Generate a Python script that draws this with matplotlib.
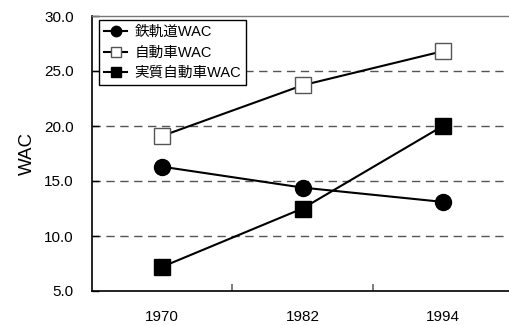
import matplotlib
matplotlib.use("Agg")
import matplotlib.pyplot as plt

plt.rcParams['font.family'] = ['Liberation Sans', 'Noto Sans CJK JP']

years = ['1970', '1982', '1994']
rail = [16.3, 14.4, 13.1]
car = [19.1, 23.7, 26.8]
real_car = [7.2, 12.5, 20.0]
yticks = [5.0, 10.0, 15.0, 20.0, 25.0, 30.0]

fig = plt.figure(figsize=(5.09, 3.25), dpi=100)
ax = fig.add_axes([92/509, 1-291/325, (513-92)/509, (291-16)/325])

x = list(range(len(years)))
ax.plot(x, rail, color='black', lw=1.5, marker='o', ms=11.5, mfc='black', mec='black', label='鉄軌道WAC', zorder=3)
ax.plot(x, car, color='black', lw=1.5, marker='s', ms=11.5, mfc='white', mec='#555555', mew=1.0, label='自動車WAC', zorder=3)
ax.plot(x, real_car, color='black', lw=1.5, marker='s', ms=11.5, mfc='black', mec='black', label='実質自動車WAC', zorder=3)

ax.set_xlim(-0.5, 2.5)
ax.set_ylim(5, 30)
ax.set_yticks(yticks)
ax.set_yticklabels([f'{v:.1f}' for v in yticks], fontsize=11)
ax.set_xticks(x)
ax.set_xticklabels(years, fontsize=11)
ax.tick_params(axis='x', length=0, pad=14)
ax.set_xticks([0.5, 1.5], minor=True)
ax.tick_params(axis='x', which='minor', direction='in', length=5, width=1.2, color='#666666')
ax.tick_params(axis='y', direction='in', length=5, width=1, pad=13)

for v in yticks[1:-1]:
    ax.axhline(v, color='#555555', lw=1, ls=(0, (6, 4)), zorder=1)

ax.spines['right'].set_visible(False)
ax.spines['top'].set_color('#777777')
ax.spines['top'].set_linewidth(1)
ax.spines['left'].set_linewidth(1.2)
ax.spines['bottom'].set_linewidth(1.2)

ax.set_ylabel('WAC', fontsize=13.5, labelpad=6)

leg = ax.legend(loc='upper left', bbox_to_anchor=((99-92)/421, 1 - 4/275), bbox_transform=ax.transAxes,
                frameon=True, fancybox=False, edgecolor='black', fontsize=10.5, markerscale=0.65,
                handlelength=1.6, handletextpad=0.5, borderpad=0.35, labelspacing=0.45, borderaxespad=0)
leg.get_frame().set_linewidth(1)
leg.get_frame().set_alpha(1)

fig.savefig('out.png', dpi=100)
